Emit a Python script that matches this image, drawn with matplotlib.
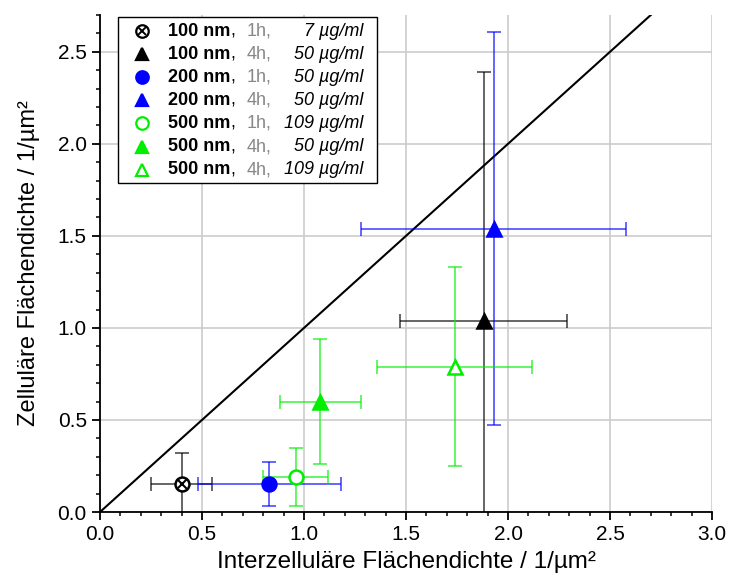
import matplotlib
matplotlib.use("Agg")
import matplotlib.pyplot as plt
from matplotlib.patches import Rectangle
from matplotlib.ticker import MultipleLocator

plt.rcParams['font.family'] = ['Liberation Sans', 'DejaVu Sans']

# data
sizes = ["100 nm", "100 nm", "200 nm", "200 nm", "500 nm", "500 nm", "500 nm"]
times = ["1h,", "4h,", "1h,", "4h,", "1h,", "4h,", "4h,"]
doses = ["7 µg/ml", "50 µg/ml", "50 µg/ml", "50 µg/ml", "109 µg/ml", "50 µg/ml", "109 µg/ml"]
x_val = [0.40, 1.88, 0.83, 1.93, 0.96, 1.08, 1.74]
y_val = [0.15, 1.04, 0.15, 1.54, 0.19, 0.60, 0.79]
x_err = [0.15, 0.41, 0.35, 0.65, 0.16, 0.20, 0.38]
y_err = [0.17, 1.35, 0.12, 1.07, 0.16, 0.34, 0.54]
colors = ["black", "black", "#0000ff", "#0000ff", "#00ee00", "#00ee00", "#00ee00"]
markers = ["o", "^", "o", "^", "o", "^", "^"]
filled = [False, True, True, True, False, True, False]

fig = plt.figure(figsize=(7.32, 5.81), dpi=100)
ax = fig.add_axes([100 / 732, 69 / 581, 612 / 732, 497 / 581])

ax.plot([0, 3], [0, 3], color="black", lw=1.5, zorder=2)

for i in range(len(x_val)):
    c = colors[i]
    ax.errorbar(x_val[i], y_val[i], xerr=x_err[i], yerr=y_err[i], fmt="none",
                ecolor=c, alpha=0.7, elinewidth=1.2, capsize=5, capthick=1.2, zorder=3)
    mfc = c if filled[i] else "white"
    ax.plot(x_val[i], y_val[i], marker=markers[i], ms=10, mfc=mfc, mec=c,
            mew=1.8, ls="none", zorder=4)
    if i == 0:
        ax.plot(x_val[i], y_val[i], marker="x", ms=7, mec=c, mew=1.5, ls="none", zorder=5)

ax.set_xlim(0, 3.0)
ax.set_ylim(0, 2.7)
ax.xaxis.set_major_locator(MultipleLocator(0.5))
ax.xaxis.set_minor_locator(MultipleLocator(0.1))
ax.yaxis.set_major_locator(MultipleLocator(0.5))
ax.yaxis.set_minor_locator(MultipleLocator(0.1))
ax.xaxis.set_major_formatter(plt.FormatStrFormatter("%.1f"))
ax.yaxis.set_major_formatter(plt.FormatStrFormatter("%.1f"))
ax.grid(True, which="major", color="#cccccc", lw=1.2)
ax.set_axisbelow(True)
for s in ["top", "right"]:
    ax.spines[s].set_visible(False)
for s in ["left", "bottom"]:
    ax.spines[s].set_linewidth(1.3)
ax.tick_params(which="major", direction="out", length=6, width=1.3, labelsize=15)
ax.tick_params(which="minor", direction="out", length=3, width=1.1)

ax.set_xlabel("Interzelluläre Flächendichte / 1/µm²", fontsize=17.5, labelpad=5)
ax.set_ylabel("Zelluläre Flächendichte / 1/µm²", fontsize=17, labelpad=13)

# hand-built legend
x0, x1 = 18 / 612, 277 / 612
ytop, ybot = 495 / 497, 329 / 497
ax.add_patch(Rectangle((x0, ybot), x1 - x0, ytop - ybot, transform=ax.transAxes,
                       fc="white", ec="black", lw=1, zorder=6, clip_on=False))
row0 = (512 - 31) / 497
dy = 23.1 / 497
for i in range(len(x_val)):
    yy = row0 - i * dy
    c = colors[i]
    mfc = c if filled[i] else "white"
    ax.plot(42 / 612, yy, marker=markers[i], ms=9, mfc=mfc, mec=c, mew=1.6,
            transform=ax.transAxes, clip_on=False, zorder=7)
    if i == 0:
        ax.plot(42 / 612, yy, marker="x", ms=6, mec=c, mew=1.4,
                transform=ax.transAxes, clip_on=False, zorder=8)
    t = ax.text(68 / 612, yy, sizes[i], fontsize=13, fontweight="bold",
                va="center", ha="left", transform=ax.transAxes, zorder=7)
    ax.annotate(",", xy=(1, 0), xycoords=t, va="bottom", ha="left",
                fontsize=13, zorder=7)
    ax.text(147 / 612, yy, times[i], fontsize=13, color="#888888",
            va="center", ha="left", transform=ax.transAxes, zorder=7)
    ax.text(263 / 612, yy, doses[i], fontsize=13, style="italic",
            va="center", ha="right", transform=ax.transAxes, zorder=7)

fig.savefig("out.png", dpi=100)
